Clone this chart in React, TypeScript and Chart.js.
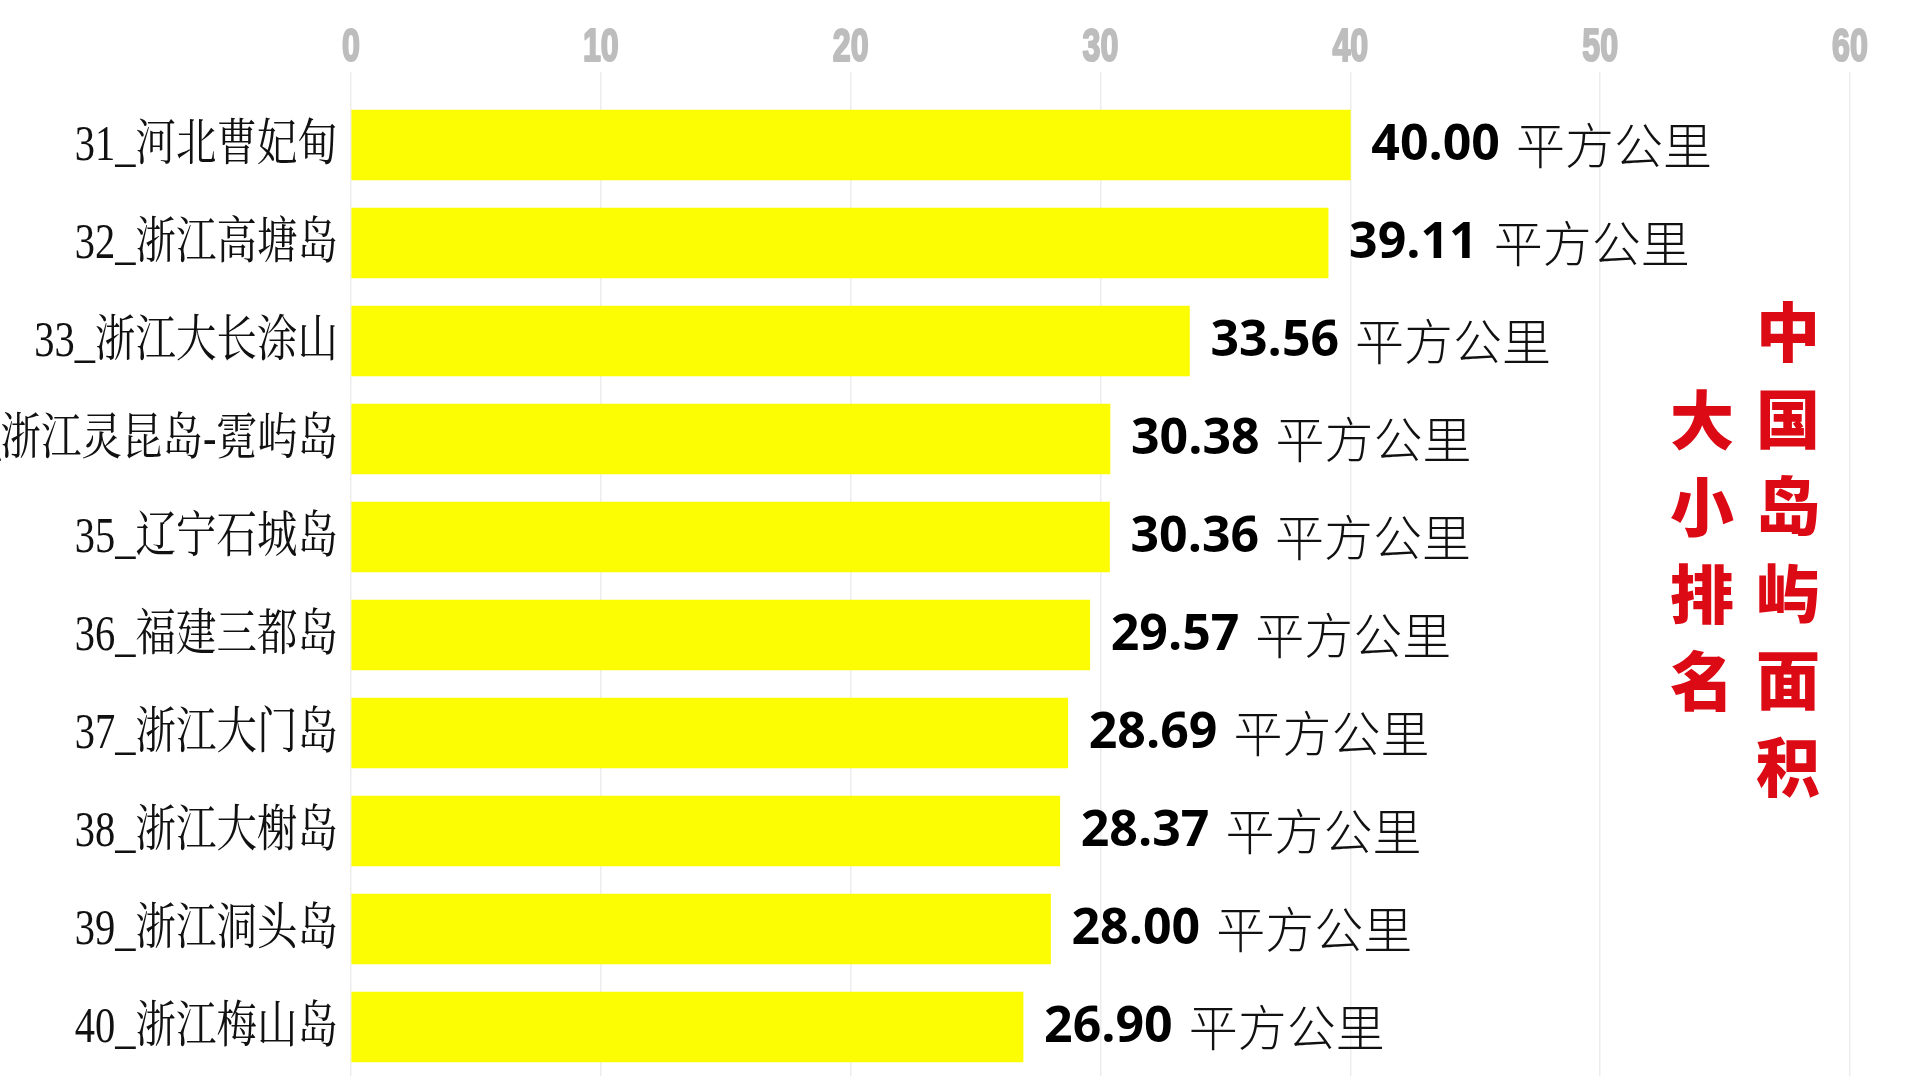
import React, { useEffect, useRef } from "react";
import { Chart, registerables } from "chart.js";

Chart.register(...registerables);

const islandLabels: string[] = [
  "31_河北曹妃甸",
  "32_浙江高塘岛",
  "33_浙江大长涂山",
  "34_浙江灵昆岛-霓屿岛",
  "35_辽宁石城岛",
  "36_福建三都岛",
  "37_浙江大门岛",
  "38_浙江大榭岛",
  "39_浙江洞头岛",
  "40_浙江梅山岛",
];

const areaValues: number[] = [40.0, 39.11, 33.56, 30.38, 30.36, 29.57, 28.69, 28.37, 28.0, 26.9];

const unitText = "平方公里";
const titleRight: string[] = ["中", "国", "岛", "屿", "面", "积"];
const titleLeft: string[] = ["大", "小", "排", "名"];

const axisMin = 0;
const axisMax = 60;
const axisStep = 10;

const labelPlugin = {
  id: "customLabels",
  afterDraw(chart: any) {
    const ctx = chart.ctx as CanvasRenderingContext2D;
    const yScale = chart.scales.y;
    const xScale = chart.scales.x;
    const area = chart.chartArea;

    // x tick labels (condensed, bold, grey)
    ctx.save();
    ctx.fillStyle = "#bdbdbd";
    ctx.strokeStyle = "#bdbdbd";
    ctx.lineWidth = 2.2;
    ctx.lineJoin = "round";
    ctx.textAlign = "center";
    ctx.textBaseline = "alphabetic";
    ctx.font = "bold 46px 'Liberation Sans', 'Arial', sans-serif";
    xScale.ticks.forEach((t: any, i: number) => {
      const x = xScale.getPixelForTick(i);
      ctx.save();
      ctx.translate(x, 61);
      ctx.scale(0.7, 1);
      ctx.strokeText(String(t.value), 0, 0);
      ctx.fillText(String(t.value), 0, 0);
      ctx.restore();
    });
    ctx.restore();

    // category labels (horizontally condensed, serif)
    ctx.save();
    ctx.fillStyle = "#111";
    ctx.textAlign = "right";
    ctx.textBaseline = "middle";
    ctx.font = "50px 'Liberation Serif', 'Noto Serif CJK SC', 'Noto Sans CJK SC', serif";
    islandLabels.forEach((lab, i) => {
      const y = yScale.getPixelForTick(i);
      ctx.save();
      ctx.translate(area.left - 13, y + 2);
      ctx.scale(0.81, 1);
      ctx.fillText(lab, 0, 0);
      ctx.restore();
    });
    ctx.restore();

    // value labels
    const meta = chart.getDatasetMeta(0);
    ctx.save();
    ctx.textBaseline = "middle";
    ctx.textAlign = "left";
    meta.data.forEach((bar: any, i: number) => {
      const x = bar.x + 21;
      const y = bar.y;
      const num = areaValues[i].toFixed(2);
      ctx.fillStyle = "#000";
      ctx.font = "bold 50px 'Open Sans', 'Liberation Sans', sans-serif";
      ctx.fillText(num, x, y + 1);
      const w = ctx.measureText(num).width;
      ctx.fillStyle = "#111";
      ctx.font = "300 49px 'Noto Sans CJK SC', serif";
      ctx.fillText(unitText, x + w + 16, y);
    });
    ctx.restore();

    // red vertical title
    ctx.save();
    ctx.fillStyle = "#dc0a14";
    ctx.textAlign = "center";
    ctx.textBaseline = "middle";
    ctx.font = "900 64px 'Noto Sans CJK SC', sans-serif";
    titleRight.forEach((ch, i) => {
      ctx.fillText(ch, 1788, 332 + i * 87);
    });
    titleLeft.forEach((ch, i) => {
      ctx.fillText(ch, 1702, 420 + i * 87);
    });
    ctx.restore();
  },
};

export default function App() {
  const canvasRef = useRef<HTMLCanvasElement | null>(null);

  useEffect(() => {
    if (!canvasRef.current) return;
    const chart = new Chart(canvasRef.current, {
      type: "bar",
      data: {
        labels: islandLabels,
        datasets: [
          {
            data: areaValues,
            backgroundColor: "#fcfc02",
            borderWidth: 0,
            barThickness: 70,
          },
        ],
      },
      options: {
        indexAxis: "y",
        responsive: false,
        animation: false,
        layout: { padding: { left: 0, right: 70, top: 0, bottom: 4 } },
        plugins: {
          legend: { display: false },
          tooltip: { enabled: false },
          title: { display: false },
        },
        scales: {
          x: {
            position: "top",
            min: axisMin,
            max: axisMax,
            ticks: {
              stepSize: axisStep,
              display: false,
            },
            grid: {
              color: "#ededed",
              lineWidth: 1.5,
              tickLength: 24,
              drawTicks: true,
            },
            border: { display: false },
            afterFit: (scale: any) => {
              scale.height = 96;
            },
          },
          y: {
            ticks: { display: false },
            grid: { display: false },
            border: { display: false },
            afterFit: (scale: any) => {
              scale.width = 351;
            },
          },
        },
      },
      plugins: [labelPlugin],
    });
    return () => chart.destroy();
  }, []);

  return (
    <div
      style={{
        position: "fixed",
        left: 0,
        top: 0,
        width: 1920,
        height: 1080,
        background: "#fff",
      }}
    >
      <canvas ref={canvasRef} width={1920} height={1080} style={{ width: 1920, height: 1080 }} />
    </div>
  );
}
